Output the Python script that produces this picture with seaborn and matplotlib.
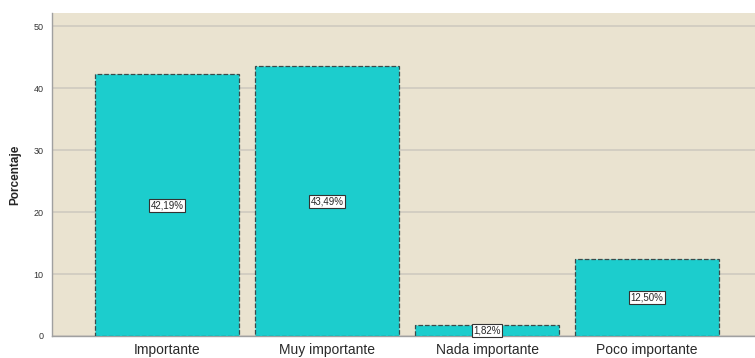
import matplotlib
matplotlib.use('Agg')
import matplotlib.pyplot as plt
import seaborn as sns
import pandas as pd

# Data
categorias = ['Importante', 'Muy importante', 'Nada importante', 'Poco importante']
porcentajes = [42.19, 43.49, 1.82, 12.50]

df = pd.DataFrame({'categoria': categorias, 'porcentaje': porcentajes})

sns.set_style('white')
plt.rcParams['font.family'] = ['Liberation Sans', 'DejaVu Sans']

fig = plt.figure(figsize=(7.55, 3.58), dpi=100)
ax = fig.add_axes([0.069, 0.0615, 0.931, 0.902])
ax.set_facecolor('#EAE3D0')

sns.barplot(data=df, x='categoria', y='porcentaje', color='#1CCDCD', saturation=1,
            width=0.9, edgecolor='#3A4A4A', linewidth=0.9, linestyle='--', ax=ax, zorder=3)

ax.set_ylim(0, 52.1)
ax.set_xlim(-0.72, 3.675)
ax.set_yticks([0, 10, 20, 30, 40, 50])
ax.yaxis.grid(True, color='#CFCAC0', linewidth=1.2, zorder=0)
ax.set_axisbelow(True)

ax.set_xlabel('')
ax.set_ylabel('Porcentaje', fontsize=8.5, fontweight='bold', labelpad=9)
ax.tick_params(axis='y', labelsize=6.5, length=0, pad=6, colors='#333333')
ax.tick_params(axis='x', labelsize=10, length=0, pad=5, colors='#2A2A2A')

for s in ['top', 'right']:
    ax.spines[s].set_visible(False)
for s in ['left', 'bottom']:
    ax.spines[s].set_color('#A0A0A0')
    ax.spines[s].set_linewidth(1)

for i, v in enumerate(porcentajes):
    txt = f'{v:.2f}%'.replace('.', ',')
    ax.text(i, v / 2, txt, ha='center', va='center', fontsize=7, zorder=5,
            bbox=dict(boxstyle='square,pad=0.15', facecolor='white', edgecolor='#333333', linewidth=0.8))

fig.savefig('out.png', dpi=100)
